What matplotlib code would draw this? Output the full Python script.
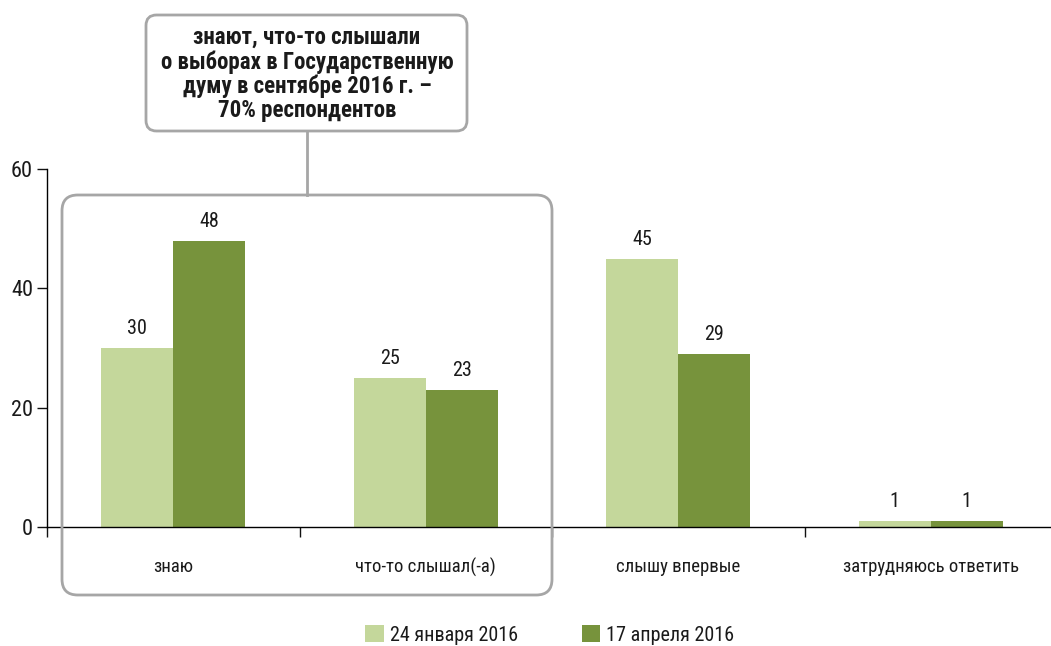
import matplotlib
matplotlib.use("Agg")
import matplotlib.pyplot as plt
from matplotlib import font_manager
from matplotlib.patches import FancyBboxPatch
from matplotlib.lines import Line2D
import numpy as np

categories = ["знаю", "что-то слышал(-а)", "слышу впервые", "затрудняюсь ответить"]
series_names = ["24 января 2016", "17 апреля 2016"]
jan_values = [30, 25, 45, 1]
apr_values = [48, 23, 29, 1]
y_ticks = [0, 20, 40, 60]
note_text = "знают, что-то слышали\nо выборах в Государственную\nдуму в сентябре 2016 г. –\n70% респондентов"

available = {f.name for f in font_manager.fontManager.ttflist}
fam = None
for cand in ["Liberation Sans Narrow", "DejaVu Sans Condensed", "Roboto Condensed", "Open Sans Condensed", "Roboto"]:
    if cand in available:
        fam = cand
        break
plt.rcParams['font.family'] = [fam, 'DejaVu Sans'] if fam else ['DejaVu Sans']

light = "#c4d79b"
dark = "#77933c"
gray = "#a6a6a6"
txt = "#1a1a1a"

W, H = 1051, 646
fig = plt.figure(figsize=(W / 100, H / 100), dpi=100)
ax = fig.add_axes([47 / W, (H - 527) / H, 1010 / W, 358 / H])

x = np.arange(len(categories))
bw = 0.286
b1 = ax.bar(x - bw / 2, jan_values, bw, color=light, label=series_names[0], zorder=2)
b2 = ax.bar(x + bw / 2, apr_values, bw, color=dark, label=series_names[1], zorder=2)
for bars, vals in ((b1, jan_values), (b2, apr_values)):
    for r, v in zip(bars, vals):
        ax.annotate(str(v), (r.get_x() + r.get_width() / 2, r.get_height()),
                    xytext=(0, 7), textcoords="offset points", ha="center", va="bottom",
                    fontsize=14.5, color=txt)

ax.set_xlim(-0.5, 3.5)
ax.set_ylim(0, 60)
ax.set_yticks(y_ticks)
ax.tick_params(axis="y", length=7, width=1, labelsize=16, pad=3, color="#111111", labelcolor=txt)
ax.set_xticks(np.arange(-0.5, 3.5, 1.0))
ax.set_xticklabels([])
ax.tick_params(axis="x", which="major", length=7, width=1, direction="out", color="#111111")
ax.set_xticks(x, minor=True)
ax.set_xticklabels(categories, minor=True, fontsize=13.5, color=txt)
ax.tick_params(axis="x", which="minor", length=0, pad=22)
for s in ["top", "right"]:
    ax.spines[s].set_visible(False)
ax.spines["left"].set_linewidth(1)
ax.spines["bottom"].set_linewidth(1)

def px(xp, yp):
    return (xp / W, 1 - yp / H)

# large rounded box around first two groups
x0, y0 = px(62, 595)
x1, y1 = px(552, 195)
big = FancyBboxPatch((x0, y0), x1 - x0, y1 - y0, boxstyle="round,pad=0,rounding_size=0.015",
                     transform=fig.transFigure, fill=False, edgecolor=gray, linewidth=2,
                     mutation_aspect=W / H, zorder=5)
fig.add_artist(big)

# note box
nx0, ny0 = px(146, 131)
nx1, ny1 = px(467, 15)
note = FancyBboxPatch((nx0, ny0), nx1 - nx0, ny1 - ny0, boxstyle="round,pad=0,rounding_size=0.01",
                      transform=fig.transFigure, facecolor="white", edgecolor=gray, linewidth=2,
                      mutation_aspect=W / H, zorder=5)
fig.add_artist(note)
cx, cy0 = px(307, 131)
_, cy1 = px(307, 195)
fig.add_artist(Line2D([cx, cx], [cy0, cy1], transform=fig.transFigure, color=gray, linewidth=2))
tx, ty = px(307, 74)
fig.text(tx, ty, note_text, ha="center", va="center", fontsize=16.5, fontweight="bold",
         linespacing=1.05, color=txt, zorder=10)

leg = fig.legend(handles=[b1, b2], labels=series_names, loc="center", bbox_to_anchor=px(550, 635),
                 ncol=2, frameon=False, fontsize=14.5, handlelength=0.9, handleheight=0.9,
                 handletextpad=0.3, columnspacing=3.2)
for t in leg.get_texts():
    t.set_color(txt)

fig.savefig("out.png", dpi=100)
